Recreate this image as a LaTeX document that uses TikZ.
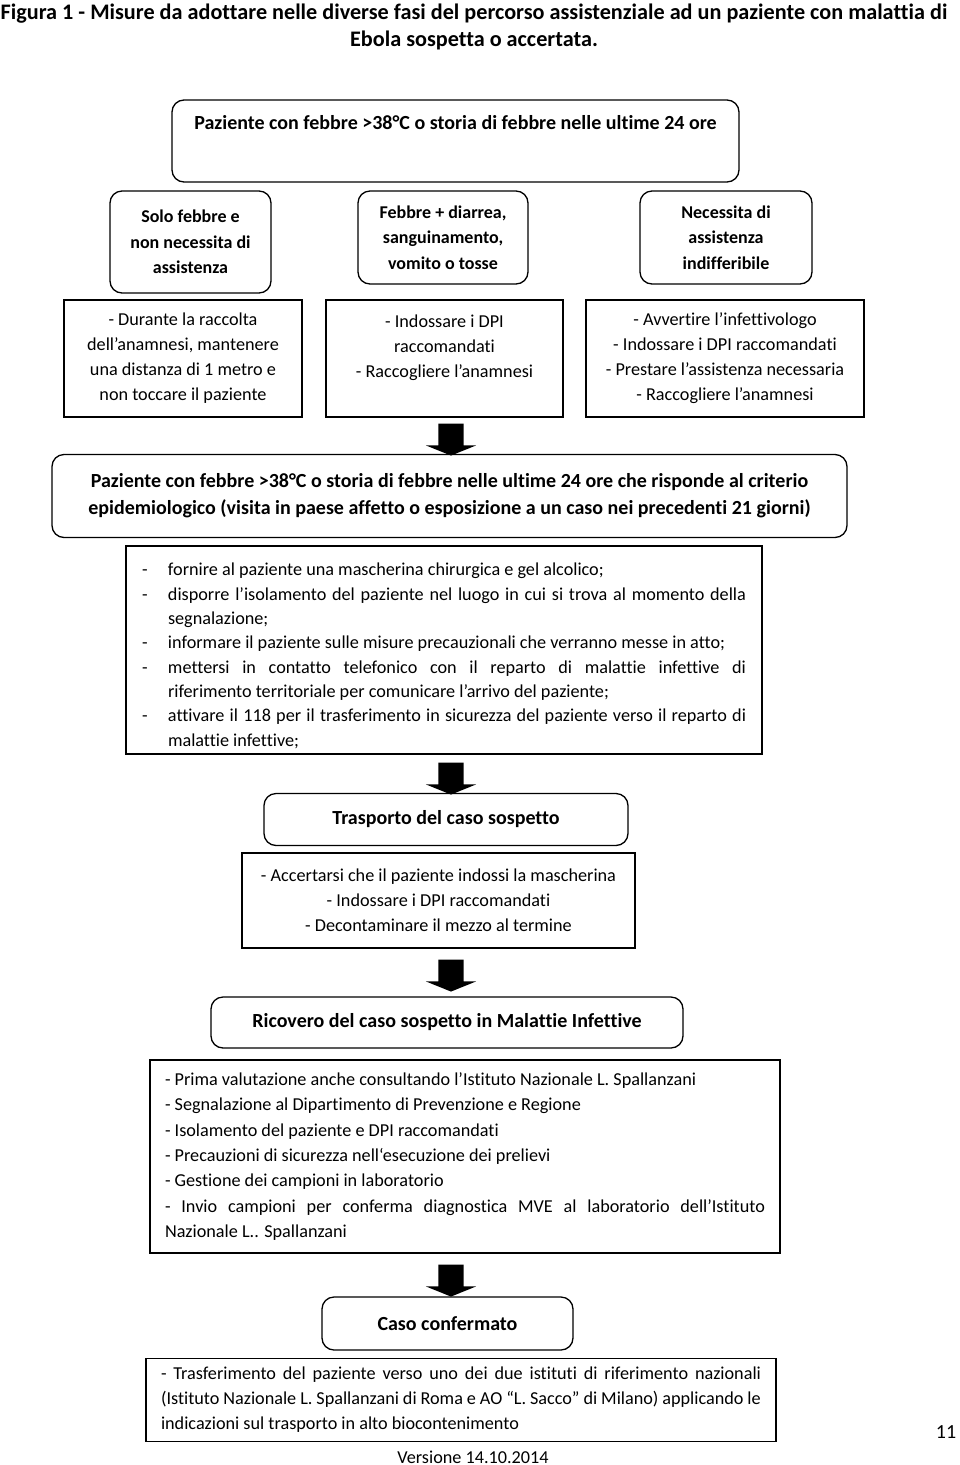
\documentclass[tikz,border=0pt]{standalone}
\usepackage{fontspec}
\setmainfont{Carlito}[Ligatures=NoCommon]
\usepackage{tikz}
\usetikzlibrary{shapes.arrows}

\newcommand{\voce}[1]{\par\noindent\hangindent=26pt\hangafter=1\makebox[26pt][l]{-}#1\par}

\begin{document}
\begin{tikzpicture}[x=1pt,y=-1pt]
\tikzstyle{every node}=[font=\fontsize{18.2}{25}\selectfont, inner sep=0pt]
\tikzstyle{grassetto}=[font=\fontsize{20}{27}\selectfont\bfseries]
\tikzstyle{piccolo}=[font=\fontsize{18}{25.5}\selectfont\bfseries]
\tikzstyle{roundbox}=[draw, line width=1.3pt, rounded corners=12pt, align=center]
\tikzstyle{plainbox}=[draw, line width=1.3pt, align=center]
\tikzstyle{downarrow}=[single arrow, fill=black, rotate=-90,
                       inner xsep=0pt, inner ysep=12.5pt, minimum height=32pt,
                       single arrow head extend=12.5pt,
                       single arrow tip angle=136]
\useasboundingbox (0,0) rectangle (960,1465);

\node[font=\fontsize{22.2}{27}\selectfont\bfseries, align=center] (titolo) at (474,27)
  {Figura 1 - Misure da adottare nelle diverse fasi del percorso assistenziale ad un paziente con malattia di\\
   Ebola sospetta o accertata.};

% triage iniziale
\node[roundbox, grassetto, minimum width=567pt, minimum height=82pt] (febbre) at (455.5,141)
  {Paziente con febbre >38°C o storia di febbre nelle ultime 24 ore\\[10pt]\mbox{}};
\node[roundbox, piccolo, minimum width=161pt, minimum height=102pt] (solo) at (190.5,242)
  {Solo febbre e\\ non necessita di\\ assistenza};
\node[roundbox, piccolo, minimum width=170pt, minimum height=93pt] (diarrea) at (443,237.5)
  {Febbre + diarrea,\\ sanguinamento,\\ vomito o tosse};
\node[roundbox, piccolo, minimum width=172pt, minimum height=93pt] (urgente) at (726,237.5)
  {Necessita di\\ assistenza\\ indifferibile};

\node[plainbox, minimum width=238pt, minimum height=117pt] (distanza) at (183,358.5)
  {- Durante la raccolta\\ dell’anamnesi, mantenere\\ una distanza di 1 metro e\\ non toccare il paziente};
\node[plainbox, minimum width=237pt, minimum height=117pt] (dpi) at (444.5,358.5)
  {- Indossare i DPI\\ raccomandati\\ - Raccogliere l’anamnesi\\ \mbox{}};
\node[plainbox, minimum width=278pt, minimum height=117pt] (avvertire) at (725,358.5)
  {- Avvertire l’infettivologo\\ - Indossare i DPI raccomandati\\ - Prestare l’assistenza necessaria\\ - Raccogliere l’anamnesi};

\foreach \n/\y in {freccia1/437, freccia2/776, freccia3/973, freccia4/1278}
  {\node[downarrow] (\n) at (451,\y) {};}

% caso sospetto
\node[roundbox, grassetto, minimum width=795pt, minimum height=83pt] (criterio) at (449.5,496)
  {Paziente con febbre >38°C o storia di febbre nelle ultime 24 ore che risponde al criterio\\
   epidemiologico (visita in paese affetto o esposizione a un caso nei precedenti 21 giorni)};
\node[plainbox, align=justify, text width=604pt, inner xsep=16pt, minimum height=208pt,
      font=\fontsize{18.2}{24.3}\selectfont] (isolamento) at (444,650)
  {\voce{fornire al paziente una mascherina chirurgica e gel alcolico;}%
   \voce{disporre l’isolamento del paziente nel luogo in cui si trova al momento della\linebreak segnalazione;}%
   \voce{informare il paziente sulle misure precauzionali che verranno messe in atto;}%
   \voce{mettersi in contatto telefonico con il reparto di malattie infettive di\linebreak riferimento territoriale per comunicare l’arrivo del paziente;}%
   \voce{attivare il 118 per il trasferimento in sicurezza del paziente verso il reparto di\linebreak malattie infettive;}};

% trasporto
\node[roundbox, grassetto, minimum width=364pt, minimum height=52pt] (trasporto) at (446,819.5)
  {Trasporto del caso sospetto};
\node[plainbox, minimum width=393pt, minimum height=95pt] (mezzo) at (438.5,900.5)
  {- Accertarsi che il paziente indossi la mascherina\\ - Indossare i DPI raccomandati\\ - Decontaminare il mezzo al termine};

% ricovero
\node[roundbox, grassetto, minimum width=472pt, minimum height=51pt] (ricovero) at (447,1022.5)
  {Ricovero del caso sospetto in Malattie Infettive};
\node[plainbox, align=justify, text width=600pt, inner xsep=15pt, minimum height=193pt,
      font=\fontsize{18.2}{25.3}\selectfont] (spallanzani) at (465,1156.5)
  {\noindent - Prima valutazione anche consultando l’Istituto Nazionale L. Spallanzani\par
   \noindent - Segnalazione al Dipartimento di Prevenzione  e Regione\par
   \noindent - Isolamento del paziente e DPI raccomandati\par
   \noindent - Precauzioni di sicurezza nell‘esecuzione dei prelievi\par
   \noindent - Gestione dei campioni in laboratorio\par
   \noindent - Invio campioni per conferma diagnostica MVE al laboratorio dell’Istituto\linebreak Nazionale  L.. Spallanzani\par};

% caso confermato
\node[roundbox, grassetto, minimum width=251pt, minimum height=53pt] (confermato) at (447.5,1323.5)
  {Caso confermato};
\node[plainbox, align=justify, text width=600pt, inner xsep=15pt, minimum height=83pt] (istituti) at (461,1400)
  {\noindent - Trasferimento del paziente verso uno dei due istituti di riferimento nazionali\linebreak
   (Istituto Nazionale L. Spallanzani di Roma e AO “L. Sacco” di Milano) applicando le\linebreak
   indicazioni sul trasporto in alto biocontenimento\par};

\node[font=\fontsize{20}{24}\selectfont] (pagina) at (946,1432) {11};
\node (versione) at (473,1457) {Versione 14.10.2014};
\end{tikzpicture}
\end{document}
